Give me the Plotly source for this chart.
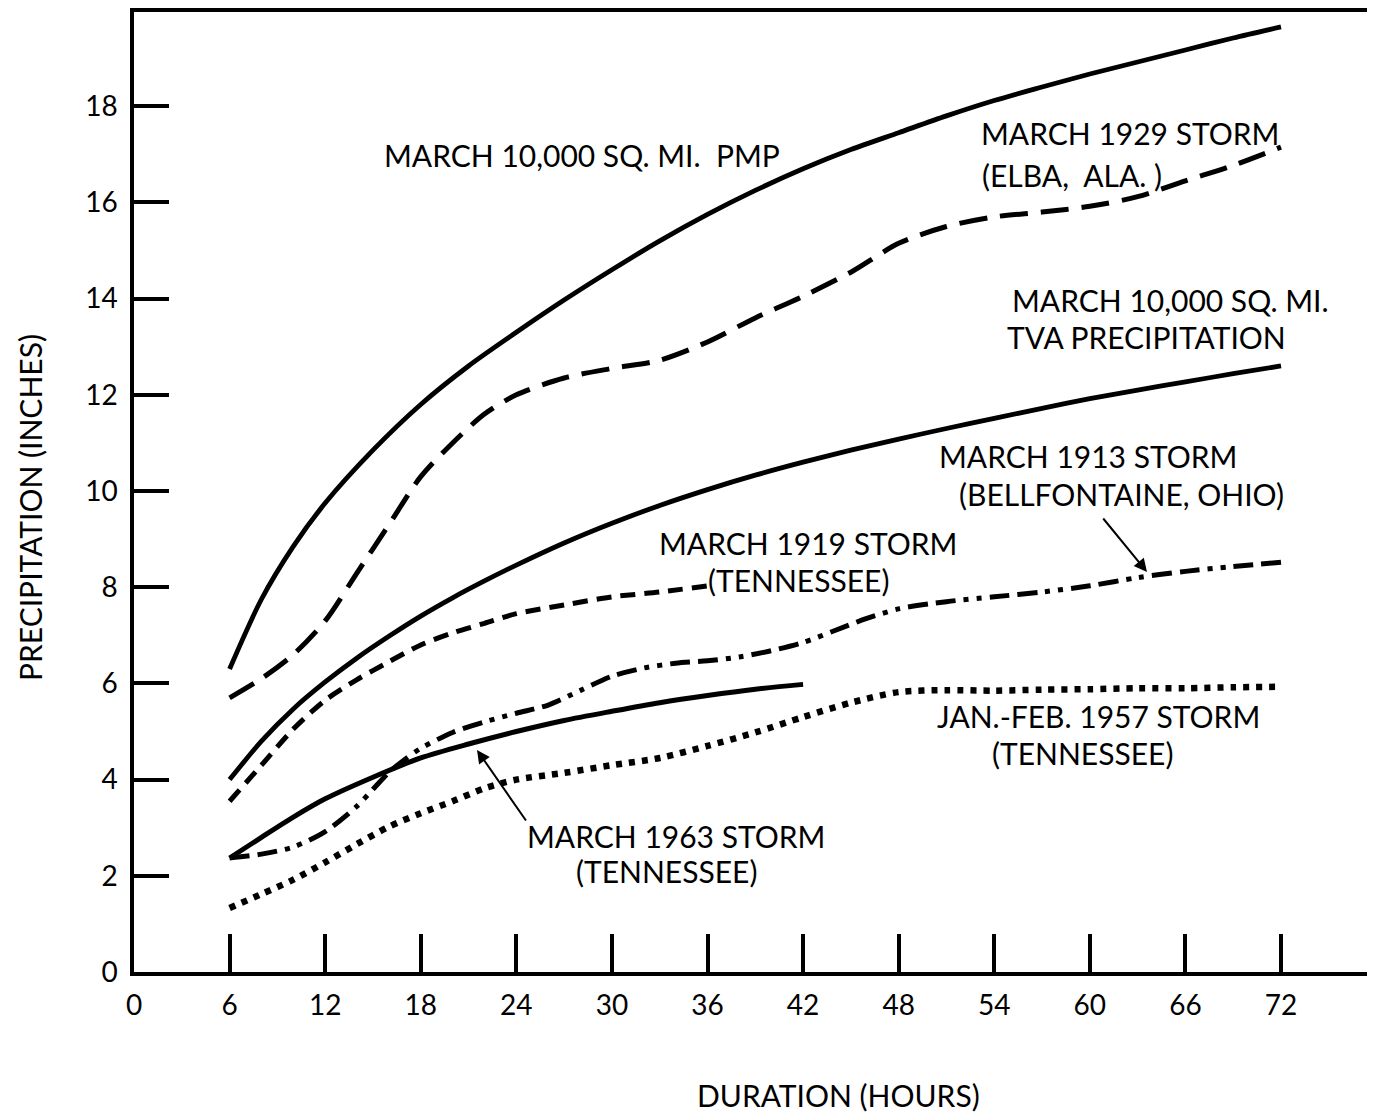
import plotly.graph_objects as go

# ---------------- data (hours, inches) ----------------
pmp_x = [6, 8, 10, 12, 15, 18, 21, 24, 27, 30, 33, 36, 39, 42, 45, 48, 51, 54, 57, 60, 63, 66, 69, 72]
pmp_y = [6.3, 7.75, 8.85, 9.75, 10.85, 11.8, 12.6, 13.3, 13.97, 14.6, 15.2, 15.75, 16.25, 16.7, 17.1, 17.45, 17.8, 18.12, 18.4, 18.67, 18.92, 19.17, 19.42, 19.65]

s1929_x = [6, 8, 10, 12, 14, 16, 18, 20, 22, 24, 27, 30, 33, 36, 39, 42, 45, 48, 51, 54, 57, 60, 63, 66, 69, 72]
s1929_y = [5.7, 6.1, 6.6, 7.3, 8.3, 9.3, 10.3, 11.0, 11.6, 12.0, 12.35, 12.55, 12.72, 13.1, 13.6, 14.05, 14.55, 15.15, 15.5, 15.7, 15.8, 15.92, 16.12, 16.45, 16.77, 17.15]

tva_x = [6, 8, 10, 12, 14, 16, 18, 20, 22, 24, 27, 30, 33, 36, 39, 42, 45, 48, 51, 54, 57, 60, 63, 66, 69, 72]
tva_y = [4.0, 4.8, 5.47, 6.03, 6.53, 6.98, 7.4, 7.78, 8.13, 8.46, 8.92, 9.33, 9.7, 10.03, 10.33, 10.6, 10.85, 11.08, 11.3, 11.51, 11.72, 11.92, 12.1, 12.27, 12.44, 12.6]

s1919_x = [6, 8, 10, 12, 14, 16, 18, 20, 22, 24, 27, 30, 33, 36]
s1919_y = [3.55, 4.3, 5.05, 5.65, 6.08, 6.45, 6.8, 7.05, 7.25, 7.45, 7.63, 7.8, 7.9, 8.03]

s1913_x = [6, 8, 10, 12, 14, 15, 16, 17, 18, 20, 22, 24, 26, 28, 30, 32, 34, 36, 38, 40, 42, 44, 46, 48, 51, 54, 57, 60, 63, 66, 69, 72]
s1913_y = [2.37, 2.45, 2.6, 2.92, 3.45, 3.8, 4.15, 4.42, 4.65, 4.98, 5.2, 5.38, 5.55, 5.85, 6.15, 6.32, 6.42, 6.47, 6.55, 6.68, 6.85, 7.1, 7.35, 7.55, 7.7, 7.8, 7.9, 8.03, 8.2, 8.33, 8.43, 8.52]

s1963_x = [6, 8, 10, 12, 15, 18, 21, 24, 27, 30, 33, 36, 39, 42]
s1963_y = [2.37, 2.8, 3.22, 3.6, 4.05, 4.45, 4.74, 5.0, 5.23, 5.42, 5.6, 5.75, 5.88, 5.98]

s1957_x = [6, 8, 10, 12, 14, 16, 18, 20, 22, 24, 27, 30, 33, 36, 39, 42, 45, 48, 51, 54, 57, 60, 63, 66, 69, 72]
s1957_y = [1.33, 1.62, 1.92, 2.28, 2.66, 3.02, 3.3, 3.55, 3.82, 4.0, 4.14, 4.3, 4.45, 4.7, 4.98, 5.3, 5.6, 5.82, 5.86, 5.85, 5.87, 5.88, 5.9, 5.9, 5.92, 5.93]

x_ticks = [0, 6, 12, 18, 24, 30, 36, 42, 48, 54, 60, 66, 72]
y_ticks = [0, 2, 4, 6, 8, 10, 12, 14, 16, 18]

# ---------------- layout geometry (screen pixels) ----------------
OFF = 8                      # page body margin of the html page
W, H = 1375 - OFF, 1113 - OFF
L, R, T, B = 134, 1371, 12, 972
XMAX = 77.65
YMAX = 19.96
FONT = "Lato"
FS = 30


def px2x(px):
    return (px - L) / (R - L) * XMAX


def py2y(py):
    return (B - py) / (B - T) * YMAX


fig = go.Figure()

series = [
    (pmp_x, pmp_y, dict(color="black", width=4.8)),
    (s1929_x, s1929_y, dict(color="black", width=5, dash="28px,13px")),
    (tva_x, tva_y, dict(color="black", width=4.8)),
    (s1919_x, s1919_y, dict(color="black", width=5, dash="15px,9px")),
    (s1913_x, s1913_y, dict(color="black", width=5, dash="20px,8px,20px,8px,5px,8px,5px,8px")),
    (s1963_x, s1963_y, dict(color="black", width=5)),
    (s1957_x, s1957_y, dict(color="black", width=6.5, dash="6px,7px")),
]
for xs, ys, ln in series:
    ln["shape"] = "spline"
    ln["smoothing"] = 0.8
    fig.add_trace(go.Scatter(x=xs, y=ys, mode="lines", line=ln,
                             showlegend=False, hoverinfo="skip"))

labels = [
    ("MARCH 10,000 SQ. MI.\u00a0\u00a0PMP", 582, 155),
    ("MARCH 1929 STORM", 1130, 133),
    ("(ELBA,\u00a0 ALA.\u00a0)", 1072, 175),
    ("MARCH 10,000 SQ. MI.", 1170, 300),
    ("TVA PRECIPITATION", 1146, 337),
    ("MARCH 1913 STORM", 1088, 456),
    ("(BELLFONTAINE, OHIO)", 1121, 494),
    ("MARCH 1919 STORM", 808, 543),
    ("(TENNESSEE)", 798, 580),
    ("JAN.-FEB. 1957 STORM", 1098, 716),
    ("(TENNESSEE)", 1082, 753),
    ("MARCH 1963 STORM", 676, 836),
    ("(TENNESSEE)", 666, 871),
]
annos = []
for txt, cx, cy in labels:
    annos.append(dict(x=px2x(cx), y=py2y(cy), xref="x", yref="y", text=txt,
                      showarrow=False, xanchor="center", yanchor="middle",
                      font=dict(family=FONT, size=FS, color="black")))

arrows = [((1147, 572), (1102, 517)), ((477, 750), (527, 822))]
for (tx, ty), (sx, sy) in arrows:
    annos.append(dict(x=px2x(tx), y=py2y(ty), ax=px2x(sx), ay=py2y(sy),
                      xref="x", yref="y", axref="x", ayref="y", text="",
                      showarrow=True, arrowhead=2, arrowsize=1.3, arrowwidth=2,
                      arrowcolor="black", standoff=0, startstandoff=0))

annos.append(dict(x=(838 - L) / (R - L), y=(B - 1095) / (B - T),
                  xref="paper", yref="paper",
                  text="DURATION (HOURS)", showarrow=False, xanchor="center",
                  yanchor="middle", font=dict(family=FONT, size=FS, color="black")))
annos.append(dict(x=(30 - L) / (R - L), y=(B - 508) / (B - T),
                  xref="paper", yref="paper",
                  text="PRECIPITATION (INCHES)", textangle=-90, showarrow=False,
                  xanchor="center", yanchor="middle",
                  font=dict(family=FONT, size=FS, color="black")))

fig.update_layout(
    width=W, height=H,
    margin=dict(l=L - OFF, r=1375 - R, t=T - OFF, b=1113 - B, pad=0),
    paper_bgcolor="white", plot_bgcolor="white",
    annotations=annos,
    font=dict(family=FONT, color="black"),
)
fig.update_xaxes(range=[0, XMAX], tickvals=x_ticks, ticktext=[str(v) for v in x_ticks],
                 ticks="inside", ticklen=38, tickwidth=3.5, tickcolor="black",
                 showline=True, linecolor="black", linewidth=3.5, mirror=True,
                 showgrid=False, zeroline=False, ticklabelstandoff=6, automargin=False,
                 tickfont=dict(family=FONT, size=28, color="black"))
fig.update_yaxes(range=[0, YMAX], tickvals=y_ticks, ticktext=[str(v) for v in y_ticks],
                 ticks="inside", ticklen=35, tickwidth=3.5, tickcolor="black",
                 showline=True, linecolor="black", linewidth=3.5, mirror=True,
                 showgrid=False, zeroline=False, ticklabelstandoff=7, automargin=False,
                 tickfont=dict(family=FONT, size=28, color="black"))

fig.write_html("out.html")
